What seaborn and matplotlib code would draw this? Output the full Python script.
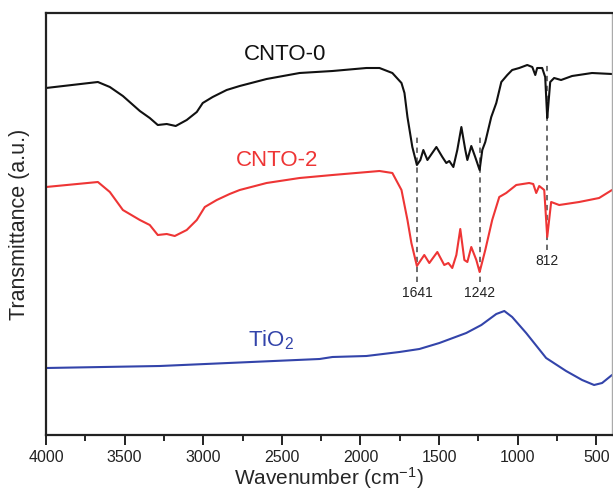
import numpy as np
import pandas as pd
import matplotlib
matplotlib.use("Agg")
import matplotlib.pyplot as plt
import seaborn as sns

# ---------------- data ----------------
cnto0_wn = [4000, 3670, 3594, 3511, 3403, 3340, 3289, 3232, 3175, 3105, 3041, 3003, 2940,
            2851, 2768, 2597, 2387, 2178, 1962, 1879, 1797, 1739, 1720, 1701, 1670, 1641,
            1619, 1600, 1574, 1517, 1479, 1454, 1435, 1409, 1384, 1358, 1333, 1320, 1295,
            1270, 1242, 1225, 1206, 1168, 1136, 1104, 1066, 1035, 990, 939, 907, 888, 876,
            844, 825, 812, 805, 793, 768, 724, 654, 527, 400]
cnto0_t = [347, 353, 348, 339, 324, 317, 310, 311, 309, 315, 323, 332, 338,
           345, 349, 356, 362, 364, 367, 367, 362, 352, 342, 318, 288, 270,
           275, 285, 275, 288, 278, 272, 274, 268, 285, 308, 285, 275, 289,
           278, 265, 285, 293, 318, 332, 353, 360, 365, 367, 370, 368, 360, 367,
           367, 358, 317, 330, 353, 357, 355, 359, 362, 361]

cnto2_wn = [4000, 3670, 3594, 3511, 3403, 3340, 3289, 3232, 3181, 3105, 3041, 2990, 2914,
            2832, 2768, 2597, 2387, 2178, 1879, 1797, 1739, 1701, 1676, 1641, 1594, 1562,
            1511, 1467, 1441, 1416, 1390, 1365, 1339, 1320, 1295, 1263, 1242, 1219, 1206,
            1162, 1117, 1073, 1009, 927, 901, 882, 863, 831, 812, 787, 736, 609, 482, 400]
cnto2_t = [248, 253, 243, 225, 215, 210, 200, 201, 199, 205, 215, 228, 235,
           241, 245, 252, 257, 260, 264, 262, 245, 215, 192, 169, 180, 172,
           183, 170, 172, 167, 180, 206, 175, 173, 188, 175, 163, 177, 185,
           215, 238, 242, 250, 252, 251, 242, 249, 245, 198, 233, 230, 233, 237, 245]

tio2_wn = [4000, 3276, 2260, 2178, 1962, 1752, 1625, 1498, 1327, 1231, 1136, 1085, 1035,
           946, 819, 692, 590, 514, 463, 400]
tio2_t = [67, 69, 76, 78, 79, 83, 86, 92, 102, 110, 121, 124, 118,
          102, 77, 64, 55, 50, 52, 60]

series_names = ["CNTO-0", "CNTO-2", "TiO2"]
series_colors = ["#111111", "#ee3535", "#3344aa"]

peak_positions = [1641, 1242, 812]
peak_line_top = [298, 298, 370]
peak_line_bottom = [153, 153, 185]
peak_label_y = [142, 142, 174]
peak_labels = ["1641", "1242", "812"]

x_ticks = [4000, 3500, 3000, 2500, 2000, 1500, 1000, 500]

# ---------------- build the frame ----------------
df = pd.concat([
    pd.DataFrame({"Wavenumber": cnto0_wn, "T": cnto0_t, "Sample": "CNTO-0"}),
    pd.DataFrame({"Wavenumber": cnto2_wn, "T": cnto2_t, "Sample": "CNTO-2"}),
    pd.DataFrame({"Wavenumber": tio2_wn, "T": tio2_t, "Sample": "TiO2"}),
], ignore_index=True)

sns.set_style("ticks")
plt.rcParams["font.family"] = ["Liberation Sans", "DejaVu Sans"]
plt.rcParams["mathtext.default"] = "regular"

fig = plt.figure(figsize=(6.13, 4.92), dpi=100)
ax = fig.add_axes([46 / 613, (492 - 435) / 492, (612 - 46) / 613, (435 - 13) / 492])

sns.lineplot(data=df, x="Wavenumber", y="T", hue="Sample", hue_order=series_names,
             palette=series_colors, estimator=None, sort=False, linewidth=1.5,
             legend=False, ax=ax)

for xp, yt, yb, ly, lab in zip(peak_positions, peak_line_top, peak_line_bottom,
                                peak_label_y, peak_labels):
    ax.plot([xp, xp], [yb, yt], color="#444444", linestyle=(0, (3.5, 3)), linewidth=1.1, zorder=1)
    ax.text(xp, ly, lab, ha="center", va="center", fontsize=10, color="#222222")

ax.text(2482, 381, "CNTO-0", ha="center", va="center", fontsize=16, color=series_colors[0])
ax.text(2533, 275, "CNTO-2", ha="center", va="center", fontsize=16, color=series_colors[1])
ax.text(2571, 95, r"TiO$_{2}$", ha="center", va="center", fontsize=16, color=series_colors[2])

ax.set_xlim(4000, 400)
ax.set_ylim(0, 422)
ax.set_xticks(x_ticks)
ax.set_xticks(np.arange(3750, 400, -500), minor=True)
ax.set_yticks([])
ax.tick_params(axis="x", which="major", direction="out", length=7, width=1.4, labelsize=11.5,
               pad=4, colors="#222222")
ax.tick_params(axis="x", which="minor", direction="out", length=4, width=1.4)
for side in ["left", "bottom", "top"]:
    ax.spines[side].set_linewidth(1.6)
    ax.spines[side].set_color("#222222")
ax.spines["right"].set_linewidth(1.0)
ax.spines["right"].set_color("#aaaaaa")

ax.set_xlabel("Wavenumber (cm$^{-1}$)", fontsize=15, labelpad=0)
ax.set_ylabel("Transmittance (a.u.)", fontsize=15.5)
ax.yaxis.set_label_coords(-0.028, 0.5)

fig.savefig("out.png", dpi=100)
